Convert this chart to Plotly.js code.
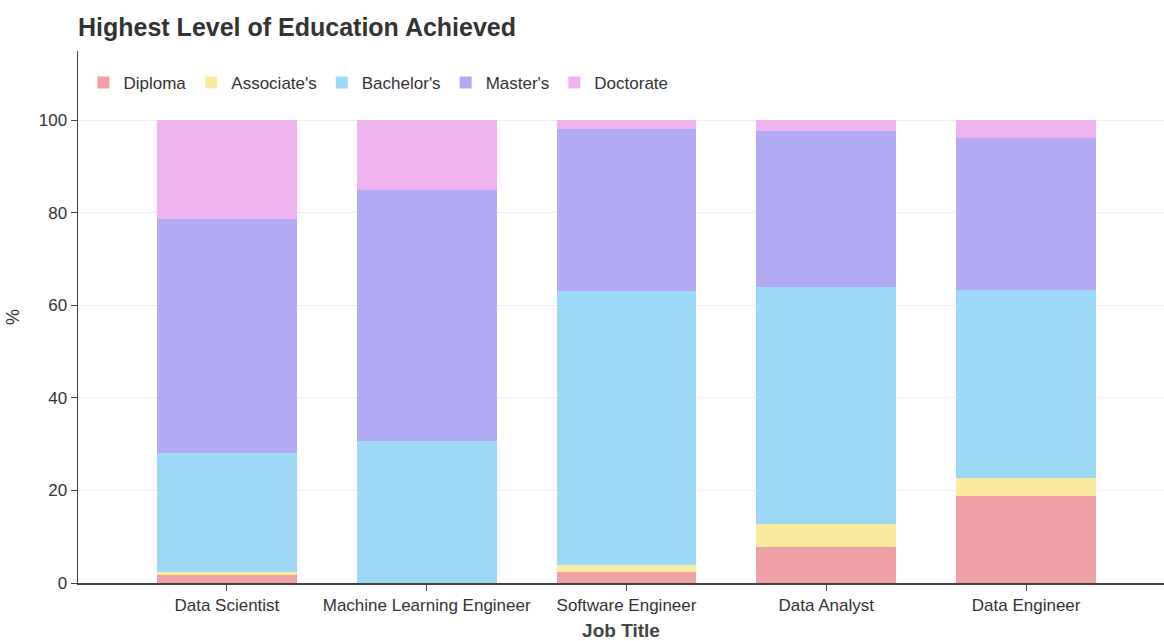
<!DOCTYPE html>
<html>
<head>
<meta charset="utf-8">
<script src="https://cdn.plot.ly/plotly-3.0.1.min.js"></script>
<style>html,body{margin:0;padding:0;background:#fff;}#chart{width:1164px;height:641px;}</style>
</head>
<body>
<div id="chart"></div>
<script>
const jobTitles = ["Data Scientist", "Machine Learning Engineer", "Software Engineer", "Data Analyst", "Data Engineer"];
const diploma    = [1.7, 0.0, 2.4, 7.8, 18.8];
const associates = [0.6, 0.0, 1.5, 4.9, 4.0];
const bachelors  = [25.8, 30.7, 59.2, 51.2, 40.5];
const masters    = [50.6, 54.2, 35.1, 33.8, 33.0];
const doctorate  = [21.3, 15.1, 1.8, 2.3, 3.7];

const seriesNames = ["Diploma", "Associate's", "Bachelor's", "Master's", "Doctorate"];
const seriesValues = [diploma, associates, bachelors, masters, doctorate];
const seriesColors = ["#f0a1a5", "#fbeb9e", "#9dd9f6", "#b2abf4", "#eeb2ef"];

const traces = seriesNames.map((name, i) => ({
  type: "bar",
  name: name,
  x: jobTitles,
  y: seriesValues[i],
  marker: {color: seriesColors[i], line: {width: 0}},
  hoverinfo: "name+y"
}));

const font = "Liberation Sans, Arial, Helvetica, sans-serif";

const layout = {
  width: 1164,
  height: 641,
  barmode: "stack",
  bargap: 0.3,
  paper_bgcolor: "#ffffff",
  plot_bgcolor: "#ffffff",
  margin: {l: 78, r: 0, t: 51, b: 58, pad: 0},
  font: {family: font, color: "#333333", size: 17},
  title: {
    text: "<b>Highest Level of Education Achieved</b>",
    font: {family: font, size: 25, color: "#333333"},
    xref: "paper", x: 0, xanchor: "left",
    yref: "container", y: 0.958, yanchor: "middle"
  },
  showlegend: true,
  legend: {
    orientation: "h",
    x: 0.005, xanchor: "left",
    y: 0.94, yanchor: "middle",
    bgcolor: "rgba(255,255,255,0)",
    font: {family: font, size: 17, color: "#333333"},
    traceorder: "normal",
    itemclick: false
  },
  xaxis: {
    type: "category",
    range: [-0.745, 4.69],
    showline: true,
    linecolor: "#444444",
    linewidth: 1.5,
    ticks: "outside",
    ticklen: 6,
    tickcolor: "#444444",
    showgrid: false,
    tickfont: {family: font, size: 17, color: "#333333"},
    title: {text: "<b>Job Title</b>", font: {family: font, size: 19, color: "#444444"}, standoff: 10}
  },
  yaxis: {
    range: [0, 115],
    tickvals: [0, 20, 40, 60, 80, 100],
    showline: true,
    linecolor: "#444444",
    linewidth: 1.5,
    ticks: "outside",
    ticklen: 6,
    tickcolor: "#444444",
    showgrid: true,
    gridcolor: "#eeeeee",
    gridwidth: 1,
    zeroline: false,
    tickfont: {family: font, size: 17, color: "#333333"},
    title: {text: "%", font: {family: font, size: 18, color: "#333333"}, standoff: 14}
  }
};

Plotly.newPlot("chart", traces, layout, {displayModeBar: false, staticPlot: true});
</script>
</body>
</html>
